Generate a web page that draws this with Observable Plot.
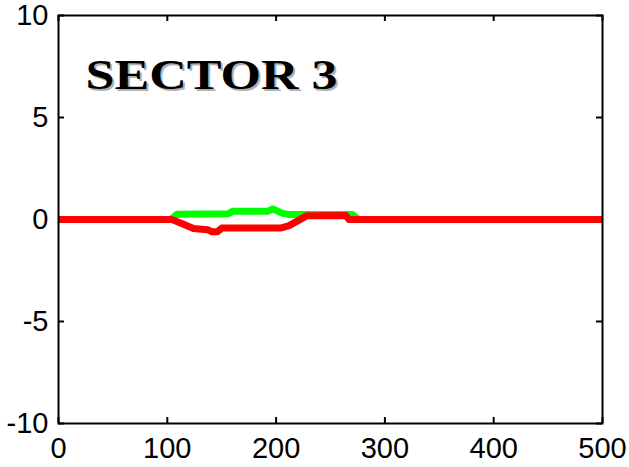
<!DOCTYPE html>
<html>
<head>
<meta charset="utf-8">
<script src="https://cdn.jsdelivr.net/npm/d3@7"></script>
<script src="https://cdn.jsdelivr.net/npm/@observablehq/plot@0.6"></script>
<style>
  html, body { margin: 0; padding: 0; background: #fff; }
</style>
</head>
<body>
<div id="chart"></div>
<script>
// Tick values
const xTicks = [0, 100, 200, 300, 400, 500];
const yTicks = [-10, -5, 0, 5, 10];

// Series: green (upper) trace
const greenX = [0, 103, 109, 156, 160, 192, 197, 202, 206, 211, 270, 276, 500];
const greenY = [0, 0, 0.26, 0.28, 0.40, 0.40, 0.52, 0.40, 0.30, 0.25, 0.25, 0, 0];

// Series: red (lower) trace
const redX = [0, 104, 110, 124, 137, 141, 146, 150, 204, 212, 228, 264, 267, 500];
const redY = [0, 0, -0.12, -0.44, -0.50, -0.60, -0.60, -0.42, -0.42, -0.30, 0.18, 0.20, 0, 0];

const titleText = ["SECTOR 3"];

const green = greenX.map((x, i) => ({x, y: greenY[i]}));
const red = redX.map((x, i) => ({x, y: redY[i]}));

const W = 629, H = 467;
const mL = 58, mR = 27, mT = 15, mB = 44;
const pw = W - mL - mR, ph = H - mT - mB;
const tl = 6;

const plot = Plot.plot({
  width: W,
  height: H,
  marginLeft: mL,
  marginRight: mR,
  marginTop: mT,
  marginBottom: mB,
  style: {fontFamily: "'Liberation Sans', Arial, sans-serif", fontSize: "29px", background: "#fff", color: "#000"},
  x: {domain: [0, 500]},
  y: {domain: [-10, 10]},
  marks: [
    Plot.axisX(xTicks, {tickSize: 0, tickPadding: 14, fontSize: 29, label: null, tickFormat: d => String(d)}),
    Plot.axisY(yTicks, {tickSize: 0, tickPadding: 10, fontSize: 29, label: null, tickFormat: d => String(d)}),
    // inward ticks on all four sides
    Plot.tickX(xTicks, {x: d => d, insetTop: ph - tl, stroke: "#000", strokeWidth: 2}),
    Plot.tickX(xTicks, {x: d => d, insetBottom: ph - tl, stroke: "#000", strokeWidth: 2}),
    Plot.tickY(yTicks, {y: d => d, insetRight: pw - tl, stroke: "#000", strokeWidth: 2}),
    Plot.tickY(yTicks, {y: d => d, insetLeft: pw - tl, stroke: "#000", strokeWidth: 2}),
    Plot.line(green, {x: "x", y: "y", stroke: "#00ff00", strokeWidth: 7, strokeLinejoin: "round", strokeLinecap: "butt"}),
    Plot.line(red, {x: "x", y: "y", stroke: "#ff0000", strokeWidth: 7, strokeLinejoin: "round", strokeLinecap: "butt"}),
    Plot.frame({stroke: "#000", strokeWidth: 2}),
    Plot.text(titleText, {text: d => d, frameAnchor: "top-left", dx: 29, dy: 75, lineAnchor: "bottom", textAnchor: "start",
      fontFamily: "'Liberation Serif', 'Times New Roman', serif", fontWeight: "bold", fontSize: 42, fill: "#b0b0b0", ariaLabel: () => "title-shadow"}),
    Plot.text(titleText, {text: d => d, frameAnchor: "top-left", dx: 27, dy: 73, lineAnchor: "bottom", textAnchor: "start",
      fontFamily: "'Liberation Serif', 'Times New Roman', serif", fontWeight: "bold", fontSize: 42, fill: "#000", ariaLabel: () => "title"})
  ]
});

d3.select(plot).selectAll("text[aria-label='title'], text[aria-label='title-shadow']")
  .attr("textLength", 252)
  .attr("lengthAdjust", "spacingAndGlyphs");

document.getElementById("chart").appendChild(plot);
</script>
</body>
</html>
